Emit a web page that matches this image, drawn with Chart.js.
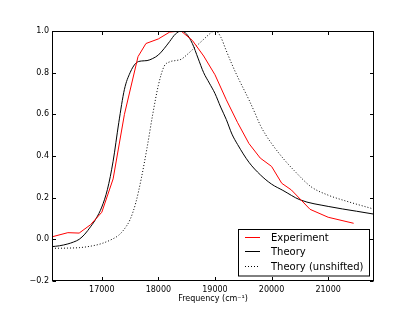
<!DOCTYPE html>
<html>
<head>
<meta charset="utf-8">
<script src="https://cdn.jsdelivr.net/npm/chart.js@4/dist/chart.umd.min.js"></script>
<style>
  html, body { margin: 0; padding: 0; background: #fff; }
  #wrap { width: 415px; height: 313px; position: relative; }
</style>
</head>
<body>
<div id="wrap"><canvas id="chart"></canvas></div>
<script>
// Data
const expX = [16120, 16400, 16600, 16800, 17000, 17200, 17400, 17640, 17780, 18000, 18200, 18400, 18600, 18800, 19000, 19200, 19400, 19600, 19800, 20000, 20180, 20350, 20680, 21000, 21450]
const expY = [0.012, 0.032, 0.03, 0.07, 0.13, 0.29, 0.6, 0.877, 0.94, 0.962, 0.995, 1.0, 0.955, 0.88, 0.79, 0.67, 0.56, 0.46, 0.39, 0.35, 0.269, 0.237, 0.144, 0.106, 0.077]

const theoryX = [16120, 16250, 16400, 16500, 16600, 16700, 16800, 16900, 17000, 17100, 17200, 17300, 17400, 17500, 17600, 17700, 17800, 17900, 18000, 18100, 18200, 18300, 18400, 18500, 18600, 18700, 18800, 18900, 19000, 19100, 19200, 19300, 19400, 19600, 19800, 20000, 20200, 20500, 21000, 21500, 21810]
const theoryY = [-0.035, -0.031, -0.022, -0.013, 0.0, 0.025, 0.06, 0.1, 0.155, 0.24, 0.375, 0.56, 0.72, 0.8, 0.845, 0.856, 0.858, 0.868, 0.885, 0.915, 0.95, 0.985, 1.0, 0.985, 0.94, 0.87, 0.8, 0.75, 0.7, 0.635, 0.575, 0.505, 0.455, 0.37, 0.31, 0.265, 0.235, 0.19, 0.158, 0.135, 0.121]

const unshiftedX = [16120, 16400, 16600, 16800, 17000, 17200, 17300, 17400, 17500, 17600, 17700, 17800, 17900, 18000, 18100, 18200, 18300, 18400, 18500, 18600, 18700, 18800, 18900, 18960, 19020, 19100, 19200, 19300, 19400, 19500, 19600, 19700, 19800, 19900, 20000, 20200, 20400, 20700, 21000, 21300, 21810]
const unshiftedY = [-0.043, -0.042, -0.04, -0.033, -0.02, 0.003, 0.02, 0.05, 0.095, 0.175, 0.295, 0.44, 0.6, 0.74, 0.83, 0.852, 0.858, 0.864, 0.885, 0.91, 0.935, 0.96, 0.985, 0.997, 0.998, 0.972, 0.905, 0.84, 0.78, 0.725, 0.67, 0.61, 0.548, 0.5, 0.46, 0.39, 0.33, 0.252, 0.212, 0.185, 0.145]

const xTicks = [17000, 18000, 19000, 20000, 21000]
const yTicks = [-0.2, 0.0, 0.2, 0.4, 0.6, 0.8, 1.0]
const seriesNames = ["Experiment", "Theory", "Theory (unshifted)"]
const xTitle = "Frequency (cm\u207B\u00B9)"

function toPoints(xs, ys) {
  return xs.map((x, i) => ({ x: x, y: ys[i] }))
}

function fmtY(v) {
  const s = Math.abs(v).toFixed(1)
  return v < -1e-9 ? "\u2212" + s : s
}

const FONT = "'DejaVu Sans', sans-serif"

// frame, inward ticks, axis title and legend, matplotlib style
const mplDecor = {
  id: "mplDecor",
  afterDraw(chart) {
    const ctx = chart.ctx
    const a = chart.chartArea
    const xs = chart.scales.x
    const ys = chart.scales.y
    const L = Math.round(a.left) + 0.5
    const R = Math.round(a.right) - 0.5
    const T = Math.round(a.top) + 0.5
    const B = Math.round(a.bottom) - 0.5
    ctx.save()
    ctx.strokeStyle = "#000"
    ctx.lineWidth = 1
    ctx.strokeRect(L, T, R - L, B - T)

    const tl = 3.5
    ctx.beginPath()
    xTicks.forEach((v) => {
      const px = Math.round(xs.getPixelForValue(v)) + 0.5
      ctx.moveTo(px, B); ctx.lineTo(px, B - tl)
      ctx.moveTo(px, T); ctx.lineTo(px, T + tl)
    })
    yTicks.forEach((v) => {
      const py = Math.round(ys.getPixelForValue(v)) + 0.5
      ctx.moveTo(L, py); ctx.lineTo(L + tl, py)
      ctx.moveTo(R, py); ctx.lineTo(R - tl, py)
    })
    ctx.stroke()

    // axis title
    ctx.fillStyle = "#000"
    ctx.font = "8px " + FONT
    ctx.textAlign = "center"
    ctx.textBaseline = "middle"
    ctx.fillText(xTitle, (a.left + a.right) / 2, 299)

    // legend
    const bx = 238.5, by = 229.5, bw = 131, bh = 46.5
    ctx.fillStyle = "#fff"
    ctx.fillRect(bx, by, bw, bh)
    ctx.strokeStyle = "#000"
    ctx.strokeRect(bx, by, bw, bh)
    const rowsY = [237.5, 251.5, 266.5]
    ctx.font = "10px " + FONT
    ctx.textAlign = "left"
    chart.data.datasets.forEach((ds, i) => {
      ctx.beginPath()
      ctx.strokeStyle = ds.borderColor
      ctx.lineWidth = 1
      ctx.setLineDash(ds.borderDash || [])
      ctx.moveTo(245, rowsY[i]); ctx.lineTo(260, rowsY[i])
      ctx.stroke()
      ctx.setLineDash([])
      ctx.fillStyle = "#000"
      ctx.fillText(seriesNames[i], 271, rowsY[i] + 0.5)
    })
    ctx.restore()
  },
}

new Chart(document.getElementById("chart").getContext("2d"), {
  type: "line",
  data: {
    datasets: [
      {
        label: seriesNames[0],
        data: toPoints(expX, expY),
        borderColor: "#ff0000",
        borderWidth: 1,
        tension: 0,
      },
      {
        label: seriesNames[1],
        data: toPoints(theoryX, theoryY),
        borderColor: "#000000",
        borderWidth: 1,
        cubicInterpolationMode: "monotone",
      },
      {
        label: seriesNames[2],
        data: toPoints(unshiftedX, unshiftedY),
        borderColor: "#000000",
        borderWidth: 1,
        borderDash: [1, 2],
        cubicInterpolationMode: "monotone",
      },
    ],
  },
  options: {
    responsive: true,
    maintainAspectRatio: false,
    animation: false,
    layout: { padding: { top: 31, right: 41, left: 0, bottom: 0 } },
    elements: { point: { radius: 0 } },
    plugins: {
      legend: { display: false },
      tooltip: { enabled: false },
    },
    scales: {
      x: {
        type: "linear",
        min: 16120,
        max: 21810,
        grid: { display: false, drawTicks: false },
        border: { display: false },
        afterBuildTicks: (scale) => { scale.ticks = xTicks.map((v) => ({ value: v })) },
        afterFit: (scale) => { scale.height = 32 },
        ticks: {
          font: { family: FONT, size: 8 },
          color: "#000",
          padding: 4,
          maxRotation: 0,
          callback: (v) => String(v),
        },
      },
      y: {
        type: "linear",
        min: -0.2,
        max: 1.0,
        grid: { display: false, drawTicks: false },
        border: { display: false },
        afterBuildTicks: (scale) => { scale.ticks = yTicks.map((v) => ({ value: v })) },
        afterFit: (scale) => { scale.width = 52 },
        ticks: {
          font: { family: FONT, size: 8 },
          color: "#000",
          padding: 3,
          callback: (v) => fmtY(v),
        },
      },
    },
  },
  plugins: [mplDecor],
})
</script>
</body>
</html>
